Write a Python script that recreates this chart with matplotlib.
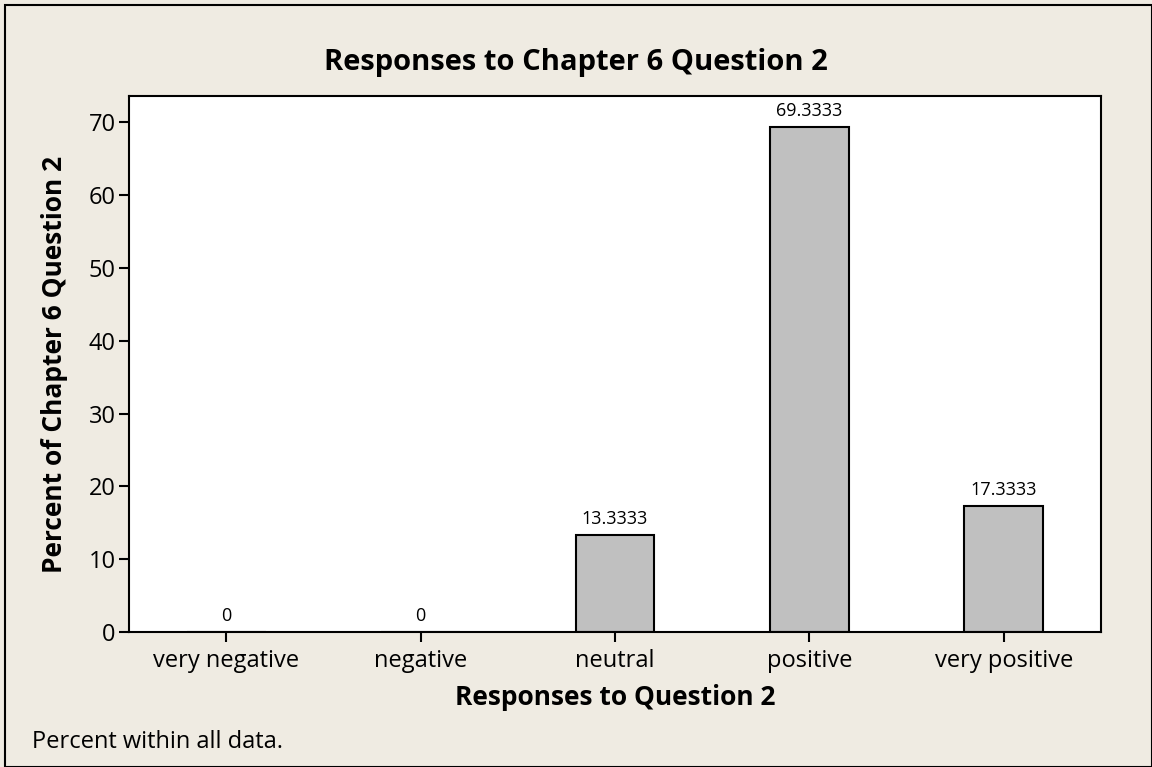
import matplotlib
matplotlib.use("Agg")
import matplotlib.pyplot as plt
from matplotlib.patches import Rectangle

# Data
categories = ["very negative", "negative", "neutral", "positive", "very positive"]
percents = [0, 0, 13.3333, 69.3333, 17.3333]
value_labels = ["0", "0", "13.3333", "69.3333", "17.3333"]

bg = "#EFEBE2"
plt.rcParams['font.family'] = ['Open Sans', 'DejaVu Sans']

W, H = 1152, 767
fig = plt.figure(figsize=(W / 100, H / 100), dpi=100, facecolor=bg)
fig.patches.append(Rectangle((5 / W, 0), 1 - 5 / W, 1 - 5 / H, transform=fig.transFigure,
                             fill=False, edgecolor="black", linewidth=1.5))
ax = fig.add_axes([129 / W, 1 - 632 / H, (1101 - 129) / W, (632 - 96) / H])
ax.set_facecolor("white")

x = range(len(categories))
bars = ax.bar(x, percents, width=0.405, color="#C0C0C0", edgecolor="black", linewidth=1.5)
for b, lab in zip(bars, value_labels):
    ax.annotate(lab, (b.get_x() + b.get_width() / 2, b.get_height()), xytext=(0, 5),
                textcoords="offset points", ha="center", va="bottom", fontsize=13)

ax.set_xlim(-0.5, 4.5)
ax.set_ylim(0, 73.6)
ax.set_xticks(list(x))
ax.set_xticklabels(categories)
ax.set_yticks(range(0, 71, 10))
ax.tick_params(axis="both", labelsize=17, length=7.5, width=1.5, direction="out", pad=2)
ax.tick_params(axis="x", pad=5)
for side in ax.spines:
    ax.spines[side].set_linewidth(1.5)

ax.set_xlabel("Responses to Question 2", fontsize=19, fontweight="bold", labelpad=8)
ax.set_ylabel("Percent of Chapter 6 Question 2", fontsize=19, fontweight="bold", labelpad=15)
fig.text(0.5, 1 - 70 / H, "Responses to Chapter 6 Question 2", ha="center", va="baseline",
         fontsize=21, fontweight="bold")
fig.text(32 / W, 1 - 748 / H, "Percent within all data.", ha="left", va="baseline", fontsize=17)

fig.savefig("out.png", dpi=100, facecolor=bg)
